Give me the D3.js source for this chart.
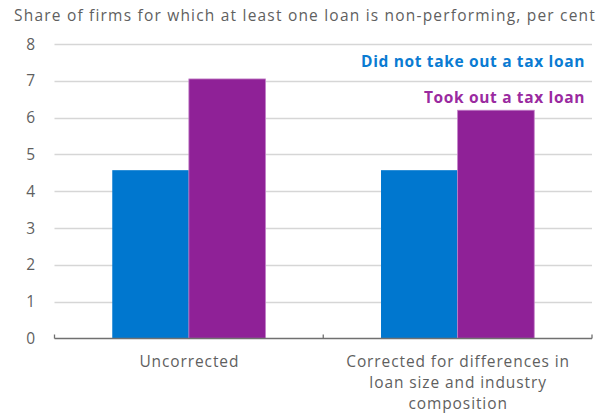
<!DOCTYPE html>
<html>
<head>
<meta charset="utf-8">
<script src="https://cdn.jsdelivr.net/npm/d3@7"></script>
<style>
  body { margin: 0; background: #fff; }
  svg { display: block; font-family: "Open Sans", sans-serif; }
</style>
</head>
<body>
<svg id="chart" width="603" height="416"></svg>
<script>
// Non-performing loan shares by group
const categories = ["Uncorrected", "Corrected for differences in loan size and industry composition"];
const categoryLines = [["Uncorrected"], ["Corrected for differences in", "loan size and industry", "composition"]];
const seriesNames = ["Did not take out a tax loan", "Took out a tax loan"];
const noTaxLoan = [4.57, 4.57];
const taxLoan = [7.05, 6.2];
const yTicks = [0, 1, 2, 3, 4, 5, 6, 7, 8];
const title = "Share of firms for which at least one loan is non-performing, per cent";

const colors = ["#0077cf", "#8f2197"];
const textColors = ["#0a7bd2", "#9a2aa0"];

const svg = d3.select("#chart");
const margin = { left: 54.5, right: 11, top: 44, bottom: 78 };
const W = 603, H = 416;
const fontSize = 15.5;

const x = d3.scaleBand()
  .domain(categories)
  .range([margin.left, W - margin.right])
  .paddingInner(0)
  .paddingOuter(0);

const y = d3.scaleLinear()
  .domain([0, 8])
  .range([H - margin.bottom + 0.3, margin.top]);

// Title
svg.append("text")
  .attr("x", 14).attr("y", 20.5)
  .attr("fill", "#5f5f5f")
  .attr("font-size", fontSize)
  .attr("letter-spacing", "1.2px")
  .text(title);

// Gridlines
svg.append("g")
  .selectAll("line")
  .data(yTicks.filter(d => d > 0))
  .join("line")
  .attr("x1", margin.left).attr("x2", W - margin.right)
  .attr("y1", d => Math.round(y(d)) + 0.5).attr("y2", d => Math.round(y(d)) + 0.5)
  .attr("stroke", "#d6d6d6").attr("stroke-width", 1.3);

// Y tick labels
svg.append("g")
  .selectAll("text")
  .data(yTicks)
  .join("text")
  .attr("x", 35).attr("y", d => y(d))
  .attr("dy", "0.36em")
  .attr("text-anchor", "end")
  .attr("fill", "#5f5f5f")
  .attr("font-size", fontSize)
  .text(d => d);

// Bars: two series side by side, centred in each category band
const inner = d3.scaleBand()
  .domain([0, 1])
  .range([0, x.bandwidth()])
  .paddingInner(0)
  .paddingOuter(0.754);

const groups = svg.append("g")
  .selectAll("g")
  .data(categories)
  .join("g")
  .attr("transform", d => `translate(${x(d)},0)`);

groups.selectAll("rect")
  .data((d, i) => [noTaxLoan[i], taxLoan[i]])
  .join("rect")
  .attr("x", (d, j) => inner(j))
  .attr("width", inner.bandwidth())
  .attr("y", d => y(d))
  .attr("height", d => y(0) - y(d))
  .attr("fill", (d, j) => colors[j])
  .attr("stroke", (d, j) => j === 1 ? "#c27fc7" : "none")
  .attr("stroke-width", 0.8);

// X axis line with upward ticks
const axisY = Math.round(y(0)) + 0.5;
svg.append("line")
  .attr("x1", margin.left).attr("x2", W - margin.right)
  .attr("y1", axisY).attr("y2", axisY)
  .attr("stroke", "#707070").attr("stroke-width", 1.3);

const tickXs = categories.map(c => x(c)).concat([x(categories[1]) + x.bandwidth()]);
svg.append("g")
  .selectAll("line")
  .data(tickXs)
  .join("line")
  .attr("x1", d => d).attr("x2", d => d)
  .attr("y1", axisY).attr("y2", axisY - 4)
  .attr("stroke", "#707070").attr("stroke-width", 1.3);

// Category labels
svg.append("g")
  .selectAll("text")
  .data(categories)
  .join("text")
  .attr("y", 366.5)
  .attr("text-anchor", "middle")
  .attr("fill", "#5f5f5f")
  .attr("font-size", fontSize)
  .attr("letter-spacing", "0.9px")
  .each(function(d, i) {
    d3.select(this).selectAll("tspan")
      .data(categoryLines[i])
      .join("tspan")
      .attr("x", x(d) + x.bandwidth() / 2 + 0.5)
      .attr("dy", (t, k) => k === 0 ? 0 : 21)
      .text(t => t);
  });

// Series labels
const legendY = [66.5, 102.5];
svg.append("g")
  .selectAll("text")
  .data(seriesNames)
  .join("text")
  .attr("x", 585)
  .attr("y", (d, i) => legendY[i])
  .attr("text-anchor", "end")
  .attr("font-weight", "bold")
  .attr("font-size", fontSize)
  .attr("letter-spacing", "0.65px")
  .attr("fill", (d, i) => textColors[i])
  .text(d => d);
</script>
</body>
</html>
